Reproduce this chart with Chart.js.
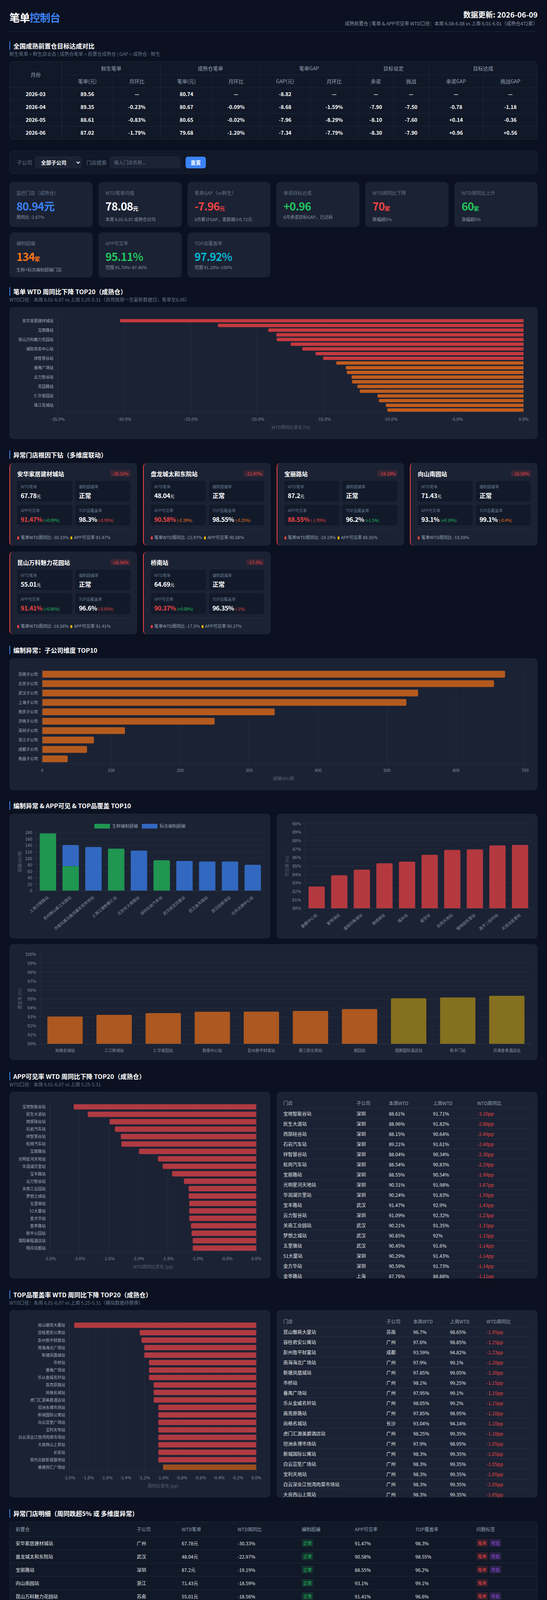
<!DOCTYPE html>
<html lang="zh-CN">
<head>
<meta charset="utf-8">
<title>笔单控制台</title>
<script src="https://cdn.jsdelivr.net/npm/chart.js@4.4.1/dist/chart.umd.min.js"></script>
<style>
*{box-sizing:border-box}
body{margin:0;background:#0b1120;color:#e5e7eb;font-family:"Noto Sans CJK SC","Noto Sans",sans-serif}
.wrap{width:1400px;padding:0 24px 60px}
.header{display:flex;justify-content:space-between;height:81px;border-bottom:1px solid #1e293b;padding-top:25px}
.header h1{margin:0;font-size:27px;line-height:40px;font-weight:700;color:#fff;letter-spacing:-1px}
.header h1 span{color:#3b82f6}
.header .right{text-align:right}
.header .upd{font-size:19px;line-height:24px;font-weight:700;color:#fff}
.header .sub{font-size:12px;line-height:18px;color:#8a94a6;margin-top:2px}
.sec-title{font-size:16px;line-height:22px;font-weight:700;color:#fff;border-left:2px solid #3b82f6;padding-left:8px;margin-top:28px}
.sec-sub{font-size:12px;line-height:18px;color:#64748b;margin-top:1px}
.card{background:#1b2233;border-radius:10px}
table{border-collapse:collapse;width:100%}
.mtable{margin-top:10px;background:#111827;border:1px solid #1e293b;border-radius:10px;overflow:hidden}
.mtable th,.mtable td{height:33px;text-align:center;font-size:13px;border-right:1px solid #1e293b;border-bottom:1px solid #1e293b}
.mtable th{color:#94a3b8;font-weight:400}
.mtable td{color:#fff;font-weight:700}
.mtable tr>*:last-child{border-right:none}
.mtable tr:last-child td{border-bottom:none}
.filter{margin-top:29px;height:59px;display:flex;align-items:center;padding:0 18px;gap:8px;border:1px solid #1e293b;background:#111827}
.filter label{font-size:13px;color:#64748b}
.filter select{width:119px;height:30px;background:#1b2233;color:#fff;border:1px solid #243044;border-radius:6px;font-size:13px;font-weight:700;padding:0 10px;font-family:inherit}
.filter input{width:180px;height:30px;background:#1b2233;border:1px solid #243044;border-radius:6px;color:#fff;padding:0 10px;font-size:12px;font-family:inherit}
.filter input::placeholder{color:#64748b}
.filter button{height:30px;width:52px;margin-left:6px;background:#3b82f6;color:#fff;border:none;border-radius:6px;font-size:13px;font-weight:700;font-family:inherit}
.kpis{display:grid;grid-template-columns:repeat(6,1fr);gap:14px 15px;margin-top:21px}
.kpi{height:115px;padding:20px 18px 0}
.kpi .lb{font-size:12px;line-height:16px;color:#64748b}
.kpi .val{font-size:28px;line-height:34px;font-weight:700;margin-top:8px;letter-spacing:-1px}
.kpi .val small{font-size:14px;letter-spacing:0}
.kpi .ds{font-size:11px;line-height:16px;color:#8a94a6;margin-top:3px}
.chart-card{margin-top:10px;padding:20px;position:relative}
.cards4{display:grid;grid-template-columns:repeat(4,1fr);gap:15px 15px;margin-top:10px}
.acard{height:212px;padding:16px 17px 0 18px;border-left:2px solid #ef4444}
.acard .top{display:flex;justify-content:space-between;align-items:center;height:22px}
.acard .name{font-size:15px;font-weight:700;color:#fff}
.badge{font-size:11px;line-height:16px;padding:0 5px;border-radius:3px;background:rgba(239,68,68,0.15);color:#ef4444}
.acard .grid{display:grid;grid-template-columns:1fr 1fr;gap:8px 8px;margin-top:8px}
.box{background:#121a2a;border-radius:6px;height:53px;padding:8px 9px 0}
.box .lb{font-size:10px;line-height:14px;color:#64748b}
.box .v{font-size:16px;line-height:22px;font-weight:700;color:#fff;margin-top:4px;letter-spacing:-0.5px}
.box .v small{font-size:11px;font-weight:400}
.box .v em{font-style:normal;font-size:10px;font-weight:400;letter-spacing:0}
.acard .foot{margin-top:10px;border-top:1px solid #263146;padding-top:10px;font-size:11px;line-height:18px;color:#94a3b8}
.dot{display:inline-block;width:5px;height:8px;border-radius:3px;margin:0 4px 0 0;vertical-align:-1px}
.pair{display:grid;grid-template-columns:1fr 1fr;gap:16px;margin-top:10px}
.pair .card{padding:16px;position:relative}
.tcard{height:478px;padding:16px 32px 0 32px;overflow:hidden}
.tcard table{font-size:12px}
.tcard th{height:26px;text-align:left;color:#94a3b8;font-weight:400;border-bottom:1px solid #253046}
.tcard td{height:26px;color:#e5e7eb;border-bottom:1px solid #253046}
.tcard td.neg{color:#ef4444}
.dtable{margin-top:10px;background:#111827;border:1px solid #1e293b;border-radius:10px;overflow:hidden}
.dtable th{height:37px;text-align:left;font-size:12px;color:#94a3b8;font-weight:400;padding-left:15px;border-bottom:1px solid #1e293b}
.dtable td{height:34px;font-size:12px;color:#e5e7eb;padding-left:15px;border-bottom:1px solid #1e293b}
.tag{display:inline-block;font-size:11px;line-height:20px;padding:0 4px;border-radius:3px;margin-right:4px}
.tag.ok{background:rgba(34,197,94,0.14);color:#22c55e}
.tag.bd{background:rgba(239,68,68,0.14);color:#ef4444}
.tag.kj{background:rgba(168,85,247,0.16);color:#a855f7}
</style>
</head>
<body>
<div class="wrap">
  <div class="header">
    <h1>笔单<span>控制台</span></h1>
    <div class="right">
      <div class="upd">数据更新: 2026-06-09</div>
      <div class="sub">成熟前置仓 | 笔单 &amp; APP可见率 WTD口径：本周 6.08-6.08 vs 上周 6.01-6.01（成熟仓472家）</div>
    </div>
  </div>

  <div class="sec-title" style="margin-top:25px">全国成熟前置仓目标达成对比</div>
  <div class="sec-sub">鲜生笔单 = 鲜生店业态 | 成熟仓笔单 = 前置仓成熟仓 | GAP = 成熟仓 - 鲜生</div>
  <div class="mtable">
    <table>
      <thead>
        <tr><th rowspan="2" style="width:133px">月份</th><th colspan="2">鲜生笔单</th><th colspan="2">成熟仓笔单</th><th colspan="2">笔单GAP</th><th colspan="2">目标设定</th><th colspan="2">目标达成</th></tr>
        <tr><th>笔单(元)</th><th>月环比</th><th>笔单(元)</th><th>月环比</th><th>GAP(元)</th><th>月环比</th><th>承诺</th><th>挑战</th><th>承诺GAP</th><th>挑战GAP</th></tr>
      </thead>
      <tbody id="monthBody"></tbody>
    </table>
  </div>

  <div class="card filter">
    <label>子公司</label>
    <select><option>全部子公司</option></select>
    <label style="margin-left:4px">门店搜索</label>
    <input placeholder="输入门店名称...">
    <button>重置</button>
  </div>

  <div class="kpis">
    <div class="card kpi"><div class="lb">监控门店（成熟仓）</div><div class="val" style="color:#3b82f6">80.94元</div><div class="ds">周同比 -2.67%</div></div>
    <div class="card kpi"><div class="lb">WTD笔单均值</div><div class="val" style="color:#fff">78.08<small>元</small></div><div class="ds">本周 6.01-6.07 成熟仓日均</div></div>
    <div class="card kpi"><div class="lb">笔单GAP（vs鲜生）</div><div class="val" style="color:#ef4444">-7.96<small>元</small></div><div class="ds">5月累计GAP，差距缩小0.72元</div></div>
    <div class="card kpi"><div class="lb">承诺目标达成</div><div class="val" style="color:#22c55e">+0.96</div><div class="ds">6月承诺目标GAP，已达标</div></div>
    <div class="card kpi"><div class="lb">WTD周同比下降</div><div class="val" style="color:#ef4444">70<small>家</small></div><div class="ds">跌幅超5%</div></div>
    <div class="card kpi"><div class="lb">WTD周同比上升</div><div class="val" style="color:#22c55e">60<small>家</small></div><div class="ds">涨幅超5%</div></div>
    <div class="card kpi"><div class="lb">编制超编</div><div class="val" style="color:#f97316">134<small>家</small></div><div class="ds">生鲜+标冻编制超编门店</div></div>
    <div class="card kpi"><div class="lb">APP可见率</div><div class="val" style="color:#22c55e">95.11%</div><div class="ds">范围 91.70%~97.46%</div></div>
    <div class="card kpi"><div class="lb">TOP品覆盖率</div><div class="val" style="color:#06b6d4">97.92%</div><div class="ds">范围 91.20%~100%</div></div>
  </div>

  <div class="sec-title" style="margin-top:25px">笔单 WTD 周同比下降 TOP20（成熟仓）</div>
  <div class="sec-sub">WTD口径：本周 6.01-6.07 vs 上周 5.25-5.31（自然周周一至最新数据日；笔单至6.06）</div>
  <div class="card chart-card"><div style="height:298px"><canvas id="wtdChart"></canvas></div></div>

  <div class="sec-title" style="margin-top:29px">异常门店根因下钻（多维度联动）</div>
  <div class="cards4" id="anomalyCards"></div>

  <div class="sec-title" style="margin-top:29px">编制异常：子公司维度 TOP10</div>
  <div class="card chart-card"><div style="height:298px"><canvas id="subChart"></canvas></div></div>

  <div class="sec-title" style="margin-top:28px">编制异常 &amp; APP可见 &amp; TOP品覆盖 TOP10</div>
  <div class="pair">
    <div class="card"><div style="height:288px"><canvas id="overChart"></canvas></div></div>
    <div class="card"><div style="height:288px"><canvas id="appLowChart"></canvas></div></div>
  </div>
  <div class="card" style="margin-top:14px;padding:16px"><div style="height:265px"><canvas id="topLowChart"></canvas></div></div>

  <div class="sec-title" style="margin-top:30px">APP可见率 WTD 周同比下降 TOP20（成熟仓）</div>
  <div class="sec-sub">WTD口径：本周 6.01-6.07 vs 上周 5.25-5.31</div>
  <div class="pair">
    <div class="card" style="padding:20px"><div style="height:438px"><canvas id="appDropChart"></canvas></div></div>
    <div class="card tcard"><table><thead><tr><th>门店</th><th>子公司</th><th>本周WTD</th><th>上周WTD</th><th>WTD周同比</th></tr></thead><tbody id="appBody"></tbody></table></div>
  </div>

  <div class="sec-title" style="margin-top:30px">TOP品覆盖率 WTD 周同比下降 TOP20（成熟仓）</div>
  <div class="sec-sub">WTD口径：本周 6.01-6.07 vs 上周 5.25-5.31（模拟数据待替换）</div>
  <div class="pair">
    <div class="card" style="padding:20px"><div style="height:440px"><canvas id="topDropChart"></canvas></div></div>
    <div class="card tcard" style="height:480px"><table><thead><tr><th>门店</th><th>子公司</th><th>本周WTD</th><th>上周WTD</th><th>WTD周同比</th></tr></thead><tbody id="topBody"></tbody></table></div>
  </div>

  <div class="sec-title" style="margin-top:29px">异常门店明细（周同跌超5% 或 多维度异常）</div>
  <div class="dtable">
    <table>
      <thead><tr><th style="width:310px">前置仓</th><th style="width:115px">子公司</th><th style="width:143px">WTD笔单</th><th style="width:164px">WTD周同比</th><th style="width:136px">编制超编</th><th style="width:155px">APP可见率</th><th style="width:156px">TOP覆盖率</th><th>问题标签</th></tr></thead>
      <tbody id="detailBody"></tbody>
    </table>
  </div>
</div>

<script>
// ---- 月度目标达成
const months = ['2026-03', '2026-04', '2026-05', '2026-06'];
const freshPrice = [89.56, 89.35, 88.61, 87.02];
const freshMom = [null, -0.23, -0.83, -1.79];
const maturePrice = [80.74, 80.67, 80.65, 79.68];
const matureMom = [null, -0.09, -0.02, -1.20];
const gapValue = [-8.82, -8.68, -7.96, -7.34];
const gapMom = [null, -1.59, -8.29, -7.79];
const targetPromise = [null, -7.90, -8.10, -8.30];
const targetChallenge = [null, -7.50, -7.60, -7.90];
const promiseGap = [null, -0.78, 0.14, 0.96];
const challengeGap = [null, -1.18, -0.36, 0.56];

// ---- 笔单 WTD 周同比下降 TOP20
const wtdStores = ['安华家居建材城站', '盘龙城太和东院站', '宝丽路站', '向山南园站', '昆山万科魅力花园站', '桥南站', '城际商务中心站', '丁家庄站', '祥智慧谷站', '厚街站',
  '番禺广场站', '南海海北广场站', '云力智谷站', '金沙湾站', '花园路站', '西湖文化站', '仁华家园站', '滨江站', '珠江花城站', '东湖站'];
const wtdChange = [-30.33, -22.97, -19.19, -18.59, -18.56, -17.5, -16.63, -15.64, -15.07, -14.08,
  -13.37, -13.29, -12.93, -12.9, -12.5, -12.32, -10.99, -10.88, -10.36, -10.25];

// ---- 异常门店卡片
const cardStores = ['安华家居建材城站', '盘龙城太和东院站', '宝丽路站', '向山南园站', '昆山万科魅力花园站', '桥南站'];
const cardChange = [-30.33, -22.97, -19.19, -18.59, -18.56, -17.5];
const cardWtd = [67.78, 48.04, 87.2, 71.43, 55.01, 64.69];
const cardApp = [91.47, 90.58, 88.55, 93.1, 91.41, 90.37];
const cardAppDelta = [0.09, -0.38, -1.99, 0.19, 0.06, 0.08];
const cardTop = [98.3, 98.55, 96.2, 99.1, 96.6, 96.35];
const cardTopDelta = [-0.95, -0.25, 1.5, -0.4, -0.85, -1];

// ---- 子公司超编 TOP10
const subCompanies = ['苏南子公司', '北京子公司', '武汉子公司', '上海子公司', '南京子公司', '济南子公司', '深圳子公司', '浙江子公司', '成都子公司', '南昌子公司'];
const subOverSku = [671, 655, 545, 528, 337, 250, 120, 75, 65, 37];

// ---- 门店超编 TOP10
const overStores = ['上海万顺路站', '苏州狮山泰江东路站', '济南凤凰北路凤凰农贸市场站', '上海江塘新都汇站', '北京农大南路站', '深圳石岩汽车站', '武汉诺亚凤凰站', '武汉金丰路站', '武汉田家湾站', '北京沃德中心站'];
const overFresh = [177, 76, 0, 130, 0, 94, 0, 0, 0, 0];
const overFrozen = [0, 65, 135, 0, 124, 0, 92, 90, 90, 80];

// ---- APP可见率最低 TOP10
const appLowStores = ['勤都中心站', '爱琴湾站', '富丽印象城站', '锦绣城站', '福永站', '星空站', '凯悦天地站', '植物园东里站', '昌平二街村站', '天润冶金里站'];
const appLowRate = [82.57, 83.9, 84.57, 85.32, 85.52, 86.32, 86.9, 86.96, 87.43, 87.49];

// ---- TOP品覆盖率最低 TOP10
const topLowStores = ['尚格名城站', '三江新城站', '仁华家园站', '勤泰中心站', '彭州敖平财富站', '振三街北苑站', '谢园站', '银鹏国际酒店站', '新丰门站', '月浦金季酒店站'];
const topLowRate = [93.04, 93.23, 93.42, 93.57, 93.59, 93.66, 93.87, 95.08, 95.17, 95.35];

// ---- APP可见率 WTD 周同比下降 TOP20
const appDropStores = ['宝地智能谷站', '民生大道站', '西部硅谷站', '石岩汽车站', '祥智慧谷站', '松岗汽车站', '宝丽路站', '光明星河天地站', '华润湖贝里站', '宝丰路站',
  '云力智谷站', '关南工业园站', '梦想之城站', '五里墩站', '51大厦站', '金方华站', '金亭路站', '和平公园站', '溧阳美程酒店站', '明月花都站'];
const appDropSub = ['深圳', '深圳', '深圳', '深圳', '深圳', '深圳', '深圳', '深圳', '深圳', '武汉', '深圳', '武汉', '武汉', '武汉', '深圳', '深圳', '上海', '上海', '苏南', '广州'];
const appDropThis = ['88.61%', '88.96%', '88.15%', '89.21%', '88.04%', '88.54%', '88.55%', '90.31%', '90.24%', '91.47%', '91.09%', '90.21%', '90.85%', '90.45%', '90.29%', '90.59%', '87.76%', '89.9%', '90.12%', '91.02%'];
const appDropLast = ['91.71%', '91.82%', '90.64%', '91.61%', '90.34%', '90.83%', '90.54%', '91.98%', '91.83%', '92.9%', '92.32%', '91.35%', '92%', '91.6%', '91.43%', '91.73%', '88.88%', '91%', '91.2%', '92.1%'];
const appDropChange = [-3.10, -2.86, -2.49, -2.40, -2.30, -2.29, -1.99, -1.67, -1.59, -1.43, -1.23, -1.15, -1.15, -1.14, -1.14, -1.14, -1.11, -1.10, -1.08, -1.08];

// ---- TOP品覆盖率 WTD 周同比下降 TOP20
const topDropStores = ['昆山徽商大厦站', '容桂君安公寓站', '彭州敖平财富站', '南海海北广场站', '新塘凤凰城站', '市桥站', '番禺广场站', '乐从金威名轩站', '高亮原路站', '尚格名城站',
  '虎门汇源美爵酒店站', '坦洲永博市场站', '新城国际公寓站', '白云芸笙广场站', '宝利天地站', '白云深业江悦湾肉菜市场站', '大良西山上筑站', '长安站', '现代北欧影视基地站', '番禺悦汇广场站'];
const topDropSub = ['苏南', '广州', '成都', '广州', '广州', '广州', '广州', '广州', '广州', '长沙', '广州', '广州', '广州', '广州', '广州', '广州', '广州', '广州', '广州', '广州'];
const topDropThis = ['96.7%', '97.6%', '93.59%', '97.9%', '97.85%', '98.1%', '97.95%', '98.05%', '97.85%', '93.04%', '98.25%', '97.9%', '98.3%', '98.3%', '98.3%', '98.3%', '98.3%', '98.3%', '98.3%', '98.35%'];
const topDropLast = ['98.65%', '98.85%', '94.82%', '99.1%', '99.05%', '99.25%', '99.1%', '99.2%', '98.95%', '94.14%', '99.35%', '98.95%', '99.35%', '99.35%', '99.35%', '99.35%', '99.35%', '99.35%', '99.35%', '99.35%'];
const topDropChange = [-1.95, -1.25, -1.23, -1.20, -1.20, -1.15, -1.15, -1.15, -1.10, -1.10, -1.10, -1.05, -1.05, -1.05, -1.05, -1.05, -1.05, -1.05, -1.05, -1.00];

// ---- 异常门店明细
const detailStores = ['安华家居建材城站', '盘龙城太和东院站', '宝丽路站', '向山南园站', '昆山万科魅力花园站', '桥南站', '城际商务中心站', '丁家庄站', '祥智慧谷站', '厚街站', '番禺广场站', '南海海北广场站'];
const detailSub = ['广州', '武汉', '深圳', '浙江', '苏南', '广州', '浙江', '南京', '深圳', '广州', '广州', '广州'];
const detailWtd = ['67.78元', '48.04元', '87.2元', '71.43元', '55.01元', '64.69元', '58.56元', '72.29元', '62.83元', '64.06元', '63.52元', '56.25元'];
const detailChange = ['-30.33%', '-22.97%', '-19.19%', '-18.59%', '-18.56%', '-17.5%', '-16.63%', '-15.64%', '-15.07%', '-14.08%', '-13.37%', '-13.29%'];
const detailApp = ['91.47%', '90.58%', '88.55%', '93.1%', '91.41%', '90.37%', '91.23%', '91.07%', '88.04%', '91.5%', '91.6%', '90.82%'];
const detailTop = ['98.3%', '98.55%', '96.2%', '99.1%', '96.6%', '96.35%', '99.05%', '98.3%', '96.55%', '98.2%', '97.95%', '97.9%'];
const detailTags = ['笔单,可见', '笔单,可见', '笔单,可见', '笔单', '笔单,可见', '笔单,可见', '笔单,可见', '笔单,可见', '笔单,可见', '笔单,可见', '笔单,可见', '笔单,可见'];

const RED = '#c43a3f';
const ORANGE = '#c05c1e';

function fmt(v, unit) {
    if (v === null) return '—';
    return (v > 0 && unit !== '' ? '+' : '') + v.toFixed(2) + unit;
}
function signed(v) {
    if (v === null) return '—';
    return (v > 0 ? '+' : '') + v.toFixed(2);
}
function deltaColor(d) {
    if (d > 0) return '#22c55e';
    if (d > -0.5) return '#f97316';
    return '#ef4444';
}

// 月度表
let monthRows = '';
months.forEach((m, i) => {
    monthRows += '<tr><td>' + m + '</td><td>' + freshPrice[i].toFixed(2) + '</td><td>' + fmt(freshMom[i], '%') + '</td><td>' +
        maturePrice[i].toFixed(2) + '</td><td>' + fmt(matureMom[i], '%') + '</td><td>' + gapValue[i].toFixed(2) + '</td><td>' +
        fmt(gapMom[i], '%') + '</td><td>' + signed(targetPromise[i]) + '</td><td>' + signed(targetChallenge[i]) + '</td><td>' +
        signed(promiseGap[i]) + '</td><td>' + signed(challengeGap[i]) + '</td></tr>';
});
document.querySelector('#monthBody').innerHTML = monthRows;

// 异常卡片
let cardsHtml = '';
cardStores.forEach((name, i) => {
    let appColor = cardApp[i] < 92 ? '#ef4444' : '#fff';
    let dA = (cardAppDelta[i] > 0 ? '+' : '') + cardAppDelta[i] + '%';
    let dT = (cardTopDelta[i] > 0 ? '+' : '') + cardTopDelta[i] + '%';
    let foot = '<span class="dot" style="background:#ef4444"></span>笔单WTD周同比 ' + cardChange[i] + '%';
    if (cardApp[i] < 92) foot += ' <span class="dot" style="background:#eab308;margin-left:2px"></span>APP可见率 ' + cardApp[i] + '%';
    cardsHtml += '<div class="card acard"><div class="top"><span class="name">' + name + '</span><span class="badge">' + cardChange[i] + '%</span></div>' +
        '<div class="grid">' +
        '<div class="box"><div class="lb">WTD笔单</div><div class="v">' + cardWtd[i] + '<small>元</small></div></div>' +
        '<div class="box"><div class="lb">编制超编率</div><div class="v">正常</div></div>' +
        '<div class="box"><div class="lb">APP可见率</div><div class="v" style="color:' + appColor + '">' + cardApp[i] + '% <em style="color:' + deltaColor(cardAppDelta[i]) + '">(' + dA + ')</em></div></div>' +
        '<div class="box"><div class="lb">TOP品覆盖率</div><div class="v">' + cardTop[i] + '% <em style="color:' + deltaColor(cardTopDelta[i]) + '">(' + dT + ')</em></div></div>' +
        '</div><div class="foot">' + foot + '</div></div>';
});
document.querySelector('#anomalyCards').innerHTML = cardsHtml;

/**
 * 右侧明细表
 */
function fillTable(id, stores, subs, thisWeek, lastWeek, change) {
    let html = '';
    stores.forEach((s, i) => {
        html += '<tr><td>' + s + '</td><td>' + subs[i] + '</td><td>' + thisWeek[i] + '</td><td>' + lastWeek[i] +
            '</td><td class="neg">' + change[i].toFixed(2) + 'pp</td></tr>';
    });
    document.querySelector(id).innerHTML = html;
}
fillTable('#appBody', appDropStores, appDropSub, appDropThis, appDropLast, appDropChange);
fillTable('#topBody', topDropStores, topDropSub, topDropThis, topDropLast, topDropChange);

// 明细表
let detailHtml = '';
detailStores.forEach((s, i) => {
    let tags = detailTags[i].split(',').map(t => '<span class="tag ' + (t === '笔单' ? 'bd' : 'kj') + '">' + t + '</span>').join('');
    detailHtml += '<tr><td>' + s + '</td><td>' + detailSub[i] + '</td><td>' + detailWtd[i] + '</td><td>' + detailChange[i] +
        '</td><td><span class="tag ok">正常</span></td><td>' + detailApp[i] + '</td><td>' + detailTop[i] + '</td><td>' + tags + '</td></tr>';
});
document.querySelector('#detailBody').innerHTML = detailHtml;

// ---- charts
Chart.defaults.font.family = '"Noto Sans CJK SC", "Noto Sans", sans-serif';
Chart.defaults.font.size = 11;
Chart.defaults.color = '#8b95a7';
Chart.defaults.borderColor = 'rgba(148,163,184,0.09)';
Chart.defaults.maintainAspectRatio = false;
Chart.defaults.animation = false;
Chart.defaults.plugins.legend.display = false;
Chart.defaults.plugins.tooltip.enabled = false;

const axisTitle = text => ({ display: true, text: text, color: '#5b6577', font: { size: 11 } });

/**
 * 横向柱状图 (周同比下降)
 */
function hBar(canvas, labels, values, colors, min, step, title, opts) {
    return new Chart(canvas, {
        type: 'bar',
        data: { labels: labels, datasets: [{ data: values, backgroundColor: colors, borderRadius: 3 }] },
        options: {
            indexAxis: 'y',
            scales: {
                x: { min: min, max: 0, ticks: { stepSize: step, callback: v => (Math.abs(v) < 1e-9 ? 0 : v).toFixed(1) + '%' }, title: axisTitle(title) },
                y: { grid: { display: false }, ticks: Object.assign({ autoSkip: false, font: { size: 10 }, color: '#aab3c2' }, opts || {}) }
            }
        }
    });
}

hBar(document.querySelector('#wtdChart'), wtdStores, wtdChange, wtdChange.map(v => v <= -15 ? RED : ORANGE), -35, 5, 'WTD周同比变化 (%)',
    { callback: (v, i) => i % 2 === 0 ? wtdStores[i] : '' });

hBar(document.querySelector('#appDropChart'), appDropStores, appDropChange, appDropChange.map(() => '#b03a42'), -3.5, 0.5, 'WTD周同比变化 (pp)');

hBar(document.querySelector('#topDropChart'), topDropStores, topDropChange, topDropChange.map(v => v <= -1.05 ? '#b03a42' : '#9c5020'), -2, 0.2, '周同比变化 (pp)');

new Chart(document.querySelector('#subChart'), {
    type: 'bar',
    data: { labels: subCompanies, datasets: [{ data: subOverSku, backgroundColor: '#b45a1e', borderRadius: 3 }] },
    options: {
        indexAxis: 'y',
        scales: {
            x: { min: 0, max: 700, ticks: { stepSize: 100 }, title: axisTitle('超编SKU数') },
            y: { grid: { display: false }, ticks: { font: { size: 10 }, color: '#aab3c2' } }
        }
    }
});

new Chart(document.querySelector('#overChart'), {
    type: 'bar',
    data: {
        labels: overStores,
        datasets: [
            { label: '生鲜编制超编', data: overFresh, backgroundColor: '#209652', borderRadius: 3 },
            { label: '标冻编制超编', data: overFrozen, backgroundColor: '#3268c0', borderRadius: 3 }
        ]
    },
    options: {
        plugins: { legend: { display: true, position: 'top', labels: { color: '#94a3b8', boxWidth: 40, boxHeight: 12 } } },
        scales: {
            x: { stacked: true, grid: { display: false }, ticks: { minRotation: 40, maxRotation: 40, font: { size: 10 } } },
            y: { stacked: true, min: 0, max: 180, ticks: { stepSize: 20 }, title: axisTitle('超编SKU数') }
        }
    }
});

new Chart(document.querySelector('#appLowChart'), {
    type: 'bar',
    data: { labels: appLowStores, datasets: [{ data: appLowRate, backgroundColor: '#b3393f', borderRadius: 3 }] },
    options: {
        scales: {
            x: { grid: { display: false }, ticks: { minRotation: 40, maxRotation: 40, font: { size: 10 } } },
            y: { min: 80, max: 90, ticks: { stepSize: 1, callback: v => v + '%' }, title: axisTitle('可见率 (%)') }
        }
    }
});

new Chart(document.querySelector('#topLowChart'), {
    type: 'bar',
    data: { labels: topLowStores, datasets: [{ data: topLowRate, backgroundColor: topLowRate.map(v => v >= 95 ? '#85701f' : '#ac5820'), borderRadius: 3 }] },
    options: {
        scales: {
            x: { grid: { display: false }, ticks: { maxRotation: 0, font: { size: 10 } } },
            y: { min: 90, max: 100, ticks: { stepSize: 1, callback: v => v + '%' }, title: axisTitle('覆盖率 (%)') }
        }
    }
});
</script>
</body>
</html>
